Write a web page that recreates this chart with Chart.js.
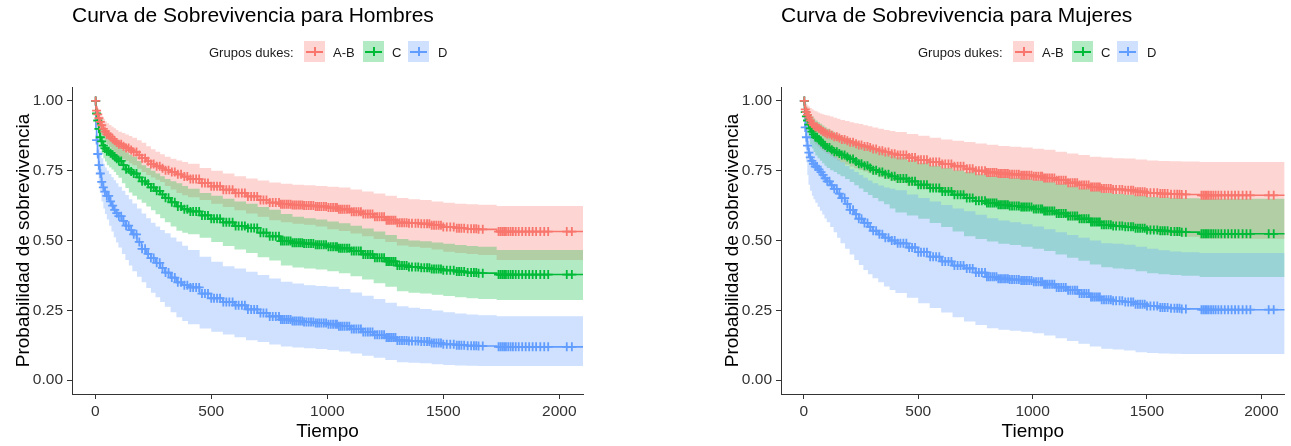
<!DOCTYPE html>
<html>
<head>
<meta charset="utf-8">
<script src="https://cdn.jsdelivr.net/npm/chart.js@4.4.1/dist/chart.umd.min.js"></script>
<style>
html,body{margin:0;padding:0;background:#fff;}
body{width:1291px;height:446px;position:relative;overflow:hidden;font-family:"Liberation Sans",Arial,sans-serif;}
.panel{position:absolute;top:0;height:446px;}
.panel canvas{position:absolute;top:0;left:0;}
.titulo{position:absolute;left:72px;top:4px;font-size:21px;line-height:21px;color:#000;white-space:nowrap;}
.ley{position:absolute;top:46px;font-size:13px;line-height:13px;color:#1a1a1a;white-space:nowrap;}
.caja{position:absolute;top:41px;width:21px;height:21px;}
.caja .h{position:absolute;left:2px;right:2px;top:9.5px;height:2px;}
.caja .v{position:absolute;top:6px;bottom:6px;left:9.5px;width:2px;}
</style>
</head>
<body>
<div class="panel" id="p1" style="left:0;width:600px;">
  <canvas id="c1" width="600" height="446"></canvas>
  <div class="titulo">Curva de Sobrevivencia para Hombres</div>
  <div class="ley" style="left:209px;">Grupos dukes:</div>
  <div class="caja" style="left:304px;background:rgba(248,118,109,0.3)"><div class="h" style="background:#F8766D"></div><div class="v" style="background:#F8766D"></div></div>
  <div class="ley" style="left:333px;">A-B</div>
  <div class="caja" style="left:363px;background:rgba(0,186,56,0.3)"><div class="h" style="background:#00BA38"></div><div class="v" style="background:#00BA38"></div></div>
  <div class="ley" style="left:392px;">C</div>
  <div class="caja" style="left:408px;background:rgba(97,156,255,0.3)"><div class="h" style="background:#619CFF"></div><div class="v" style="background:#619CFF"></div></div>
  <div class="ley" style="left:438px;">D</div>
</div>
<div class="panel" id="p2" style="left:709px;width:582px;">
  <canvas id="c2" width="582" height="446"></canvas>
  <div class="titulo">Curva de Sobrevivencia para Mujeres</div>
  <div class="ley" style="left:209px;">Grupos dukes:</div>
  <div class="caja" style="left:304px;background:rgba(248,118,109,0.3)"><div class="h" style="background:#F8766D"></div><div class="v" style="background:#F8766D"></div></div>
  <div class="ley" style="left:333px;">A-B</div>
  <div class="caja" style="left:363px;background:rgba(0,186,56,0.3)"><div class="h" style="background:#00BA38"></div><div class="v" style="background:#00BA38"></div></div>
  <div class="ley" style="left:392px;">C</div>
  <div class="caja" style="left:408px;background:rgba(97,156,255,0.3)"><div class="h" style="background:#619CFF"></div><div class="v" style="background:#619CFF"></div></div>
  <div class="ley" style="left:438px;">D</div>
</div>
<script>
// ---------------- DATA ----------------
const tiempos = [0, 3, 6, 10, 15, 20, 27, 35, 42, 50,
  60, 70, 80, 90, 100, 115, 130, 145, 160, 180,
  200, 220, 240, 260, 280, 300, 325, 350, 375, 400,
  450, 500, 550, 600, 650, 700, 750, 800, 850, 900,
  950, 1000, 1050, 1100, 1150, 1200, 1250, 1300, 1350, 1400,
  1450, 1500, 1550, 1600, 1650, 1730, 2102];

const ticksX = [0, 500, 1000, 1500, 2000];
const ticksY = [0, 0.25, 0.5, 0.75, 1];

const tiemposCensura = [2, 6, 11, 16, 22, 28, 35, 42, 50, 58, 66, 75, 84, 93, 102, 112, 122, 133, 144, 155,
  166, 178, 190, 202, 215, 228, 240, 252, 265, 278, 290, 303, 316, 330, 343, 356, 370, 384, 397,
  410, 422, 435, 448, 460, 473, 486, 500, 512, 525, 538, 552, 565, 578, 592, 605, 618, 632, 645, 658,
  672, 685, 698, 712, 725, 738, 752, 765, 778, 792,
  800, 808, 816, 825, 833, 842, 850, 858, 866, 875, 883, 892, 900, 910, 920, 930, 940, 950, 958, 966,
  975, 985, 995, 1005, 1015, 1025, 1035, 1042, 1050, 1058, 1066, 1075, 1085, 1095, 1105, 1115, 1125,
  1135, 1145, 1155, 1165, 1175, 1185, 1195, 1205, 1215, 1225, 1235, 1245, 1255, 1262, 1270, 1278, 1286,
  1294, 1302, 1312, 1322, 1332, 1342, 1352, 1365, 1380, 1392, 1405, 1418, 1430, 1440, 1450, 1460, 1470,
  1480, 1490, 1500, 1515, 1530, 1545, 1558, 1568, 1578, 1590, 1605, 1620, 1632, 1642, 1652, 1670,
  1738, 1746, 1754, 1762, 1770, 1780, 1790, 1800, 1812, 1825, 1840, 1855, 1870, 1885, 1900, 1918, 1935,
  1952, 2032, 2054];

// Hombres
const hombresAB = [1.00, 0.975, 0.965, 0.952, 0.938, 0.925, 0.913, 0.90, 0.89, 0.88,
  0.872, 0.864, 0.857, 0.851, 0.845, 0.838, 0.831, 0.824, 0.817, 0.806,
  0.795, 0.784, 0.774, 0.766, 0.759, 0.752, 0.745, 0.737, 0.729, 0.72,
  0.706, 0.694, 0.682, 0.67, 0.658, 0.645, 0.636, 0.63, 0.627, 0.625,
  0.622, 0.618, 0.612, 0.603, 0.595, 0.585, 0.573, 0.564, 0.562, 0.56,
  0.555, 0.548, 0.544, 0.542, 0.54, 0.532, 0.532];
const hombresABSup = [1.00, 0.993, 0.985, 0.975, 0.965, 0.955, 0.945, 0.935, 0.927, 0.92,
  0.914, 0.908, 0.902, 0.896, 0.89, 0.885, 0.88, 0.874, 0.868, 0.859,
  0.85, 0.838, 0.827, 0.818, 0.809, 0.80, 0.793, 0.787, 0.781, 0.775,
  0.76, 0.75, 0.74, 0.73, 0.722, 0.715, 0.708, 0.703, 0.70, 0.698,
  0.695, 0.693, 0.69, 0.683, 0.676, 0.668, 0.66, 0.652, 0.648, 0.645,
  0.64, 0.635, 0.632, 0.63, 0.628, 0.624, 0.624];
const hombresABInf = [1.00, 0.96, 0.945, 0.925, 0.91, 0.895, 0.882, 0.87, 0.857, 0.845,
  0.835, 0.826, 0.817, 0.808, 0.80, 0.792, 0.785, 0.777, 0.77, 0.757,
  0.745, 0.735, 0.726, 0.718, 0.71, 0.695, 0.683, 0.67, 0.662, 0.655,
  0.645, 0.632, 0.62, 0.608, 0.597, 0.585, 0.573, 0.565, 0.56, 0.556,
  0.55, 0.54, 0.534, 0.525, 0.515, 0.505, 0.495, 0.482, 0.478, 0.474,
  0.468, 0.46, 0.455, 0.452, 0.448, 0.43, 0.43];

const hombresC = [1.00, 0.97, 0.955, 0.93, 0.90, 0.87, 0.855, 0.84, 0.83, 0.82,
  0.813, 0.807, 0.801, 0.793, 0.785, 0.77, 0.755, 0.747, 0.74, 0.726,
  0.712, 0.703, 0.69, 0.678, 0.665, 0.653, 0.637, 0.622, 0.612, 0.604,
  0.59, 0.578, 0.565, 0.552, 0.545, 0.528, 0.515, 0.498, 0.492, 0.489,
  0.485, 0.478, 0.472, 0.462, 0.45, 0.438, 0.425, 0.41, 0.405, 0.402,
  0.398, 0.393, 0.389, 0.385, 0.383, 0.378, 0.378];
const hombresCSup = [1.00, 0.985, 0.975, 0.96, 0.937, 0.915, 0.902, 0.89, 0.88, 0.87,
  0.864, 0.858, 0.851, 0.843, 0.835, 0.825, 0.815, 0.807, 0.80, 0.785,
  0.77, 0.76, 0.75, 0.74, 0.73, 0.72, 0.712, 0.705, 0.695, 0.685,
  0.67, 0.66, 0.65, 0.64, 0.632, 0.62, 0.61, 0.595, 0.585, 0.58,
  0.575, 0.568, 0.562, 0.553, 0.543, 0.532, 0.52, 0.505, 0.50, 0.497,
  0.493, 0.488, 0.484, 0.48, 0.478, 0.466, 0.466];
const hombresCInf = [1.00, 0.955, 0.935, 0.90, 0.865, 0.83, 0.81, 0.795, 0.783, 0.77,
  0.762, 0.754, 0.745, 0.735, 0.725, 0.705, 0.688, 0.672, 0.66, 0.647,
  0.635, 0.622, 0.608, 0.594, 0.58, 0.565, 0.55, 0.535, 0.528, 0.522,
  0.51, 0.495, 0.48, 0.468, 0.455, 0.44, 0.428, 0.41, 0.403, 0.40,
  0.396, 0.39, 0.383, 0.372, 0.36, 0.347, 0.334, 0.318, 0.313, 0.31,
  0.306, 0.301, 0.297, 0.293, 0.29, 0.287, 0.287];

const hombresD = [1.00, 0.90, 0.86, 0.81, 0.77, 0.74, 0.71, 0.69, 0.675, 0.66,
  0.64, 0.625, 0.61, 0.598, 0.587, 0.57, 0.553, 0.537, 0.522, 0.495,
  0.47, 0.452, 0.437, 0.42, 0.402, 0.385, 0.367, 0.35, 0.34, 0.332,
  0.31, 0.293, 0.28, 0.268, 0.253, 0.24, 0.228, 0.217, 0.212, 0.208,
  0.204, 0.20, 0.193, 0.183, 0.172, 0.162, 0.152, 0.142, 0.14, 0.138,
  0.133, 0.128, 0.125, 0.123, 0.122, 0.119, 0.119];
const hombresDSup = [1.00, 0.95, 0.92, 0.88, 0.845, 0.82, 0.795, 0.775, 0.762, 0.75,
  0.738, 0.727, 0.716, 0.705, 0.693, 0.678, 0.663, 0.648, 0.633, 0.615,
  0.597, 0.58, 0.564, 0.55, 0.538, 0.526, 0.511, 0.496, 0.481, 0.466,
  0.442, 0.424, 0.408, 0.40, 0.388, 0.376, 0.364, 0.352, 0.346, 0.34,
  0.337, 0.334, 0.326, 0.314, 0.302, 0.29, 0.277, 0.264, 0.259, 0.255,
  0.249, 0.243, 0.238, 0.235, 0.232, 0.229, 0.229];
const hombresDInf = [1.00, 0.85, 0.80, 0.74, 0.70, 0.67, 0.64, 0.615, 0.595, 0.575,
  0.553, 0.532, 0.512, 0.493, 0.475, 0.452, 0.43, 0.41, 0.39, 0.37,
  0.35, 0.33, 0.313, 0.297, 0.28, 0.263, 0.243, 0.225, 0.212, 0.20,
  0.185, 0.173, 0.163, 0.153, 0.143, 0.136, 0.127, 0.12, 0.117, 0.114,
  0.111, 0.108, 0.102, 0.095, 0.087, 0.08, 0.072, 0.064, 0.062, 0.06,
  0.057, 0.054, 0.052, 0.051, 0.05, 0.05, 0.05];

// Mujeres
const mujeresAB = [1.00, 0.98, 0.97, 0.96, 0.95, 0.94, 0.93, 0.92, 0.913, 0.907,
  0.901, 0.896, 0.891, 0.886, 0.882, 0.877, 0.872, 0.867, 0.862, 0.857,
  0.852, 0.847, 0.842, 0.837, 0.833, 0.828, 0.822, 0.817, 0.811, 0.806,
  0.797, 0.789, 0.781, 0.774, 0.766, 0.757, 0.75, 0.744, 0.74, 0.737,
  0.734, 0.73, 0.724, 0.716, 0.707, 0.699, 0.692, 0.686, 0.683, 0.68,
  0.675, 0.671, 0.668, 0.666, 0.665, 0.662, 0.662];
const mujeresABSup = [1.00, 0.997, 0.993, 0.99, 0.985, 0.98, 0.975, 0.97, 0.966, 0.963,
  0.959, 0.955, 0.952, 0.95, 0.948, 0.944, 0.94, 0.936, 0.932, 0.928,
  0.924, 0.92, 0.917, 0.913, 0.909, 0.905, 0.90, 0.896, 0.892, 0.889,
  0.882, 0.875, 0.868, 0.862, 0.857, 0.853, 0.848, 0.843, 0.839, 0.836,
  0.833, 0.829, 0.825, 0.818, 0.812, 0.806, 0.80, 0.797, 0.795, 0.794,
  0.79, 0.787, 0.785, 0.784, 0.783, 0.781, 0.781];
const mujeresABInf = [1.00, 0.96, 0.945, 0.925, 0.91, 0.895, 0.88, 0.865, 0.855, 0.845,
  0.837, 0.829, 0.822, 0.816, 0.81, 0.802, 0.795, 0.787, 0.78, 0.772,
  0.765, 0.759, 0.753, 0.747, 0.741, 0.735, 0.727, 0.72, 0.713, 0.706,
  0.695, 0.685, 0.678, 0.672, 0.665, 0.655, 0.645, 0.635, 0.628, 0.62,
  0.612, 0.60, 0.592, 0.582, 0.572, 0.563, 0.556, 0.55, 0.546, 0.543,
  0.535, 0.527, 0.52, 0.516, 0.513, 0.506, 0.506];

const mujeresC = [1.00, 0.975, 0.96, 0.945, 0.93, 0.915, 0.902, 0.89, 0.88, 0.87,
  0.862, 0.854, 0.846, 0.84, 0.833, 0.825, 0.818, 0.812, 0.806, 0.799,
  0.792, 0.783, 0.775, 0.768, 0.76, 0.752, 0.745, 0.737, 0.73, 0.722,
  0.712, 0.70, 0.688, 0.676, 0.664, 0.652, 0.642, 0.634, 0.628, 0.624,
  0.62, 0.613, 0.606, 0.597, 0.588, 0.578, 0.566, 0.556, 0.552, 0.549,
  0.544, 0.538, 0.535, 0.532, 0.53, 0.524, 0.524];
const mujeresCSup = [1.00, 0.993, 0.987, 0.98, 0.97, 0.96, 0.952, 0.945, 0.937, 0.93,
  0.924, 0.918, 0.912, 0.906, 0.90, 0.893, 0.885, 0.878, 0.872, 0.866,
  0.86, 0.853, 0.846, 0.839, 0.832, 0.826, 0.819, 0.812, 0.805, 0.798,
  0.788, 0.778, 0.768, 0.76, 0.752, 0.745, 0.737, 0.731, 0.727, 0.724,
  0.721, 0.716, 0.71, 0.702, 0.694, 0.686, 0.677, 0.67, 0.667, 0.664,
  0.66, 0.656, 0.654, 0.652, 0.651, 0.65, 0.65];
const mujeresCInf = [1.00, 0.955, 0.935, 0.91, 0.885, 0.865, 0.845, 0.83, 0.817, 0.805,
  0.795, 0.786, 0.777, 0.768, 0.76, 0.752, 0.745, 0.737, 0.73, 0.72,
  0.71, 0.698, 0.686, 0.674, 0.663, 0.652, 0.641, 0.63, 0.615, 0.60,
  0.59, 0.578, 0.563, 0.548, 0.532, 0.515, 0.505, 0.496, 0.488, 0.484,
  0.478, 0.47, 0.462, 0.45, 0.438, 0.427, 0.414, 0.404, 0.40, 0.397,
  0.39, 0.383, 0.379, 0.376, 0.374, 0.369, 0.369];

const mujeresD = [1.00, 0.94, 0.905, 0.87, 0.84, 0.815, 0.798, 0.785, 0.775, 0.765,
  0.755, 0.745, 0.735, 0.723, 0.712, 0.698, 0.685, 0.668, 0.652, 0.631,
  0.61, 0.594, 0.578, 0.563, 0.549, 0.535, 0.522, 0.51, 0.50, 0.49,
  0.475, 0.458, 0.442, 0.425, 0.41, 0.40, 0.385, 0.37, 0.363, 0.36,
  0.357, 0.352, 0.343, 0.332, 0.322, 0.31, 0.298, 0.288, 0.284, 0.28,
  0.272, 0.265, 0.26, 0.257, 0.255, 0.252, 0.252];
const mujeresDSup = [1.00, 0.98, 0.96, 0.945, 0.925, 0.91, 0.895, 0.88, 0.87, 0.86,
  0.852, 0.844, 0.836, 0.828, 0.82, 0.81, 0.80, 0.79, 0.78, 0.767,
  0.755, 0.745, 0.735, 0.725, 0.715, 0.705, 0.697, 0.69, 0.685, 0.68,
  0.665, 0.652, 0.64, 0.627, 0.615, 0.605, 0.592, 0.58, 0.572, 0.565,
  0.558, 0.55, 0.54, 0.53, 0.52, 0.51, 0.50, 0.49, 0.488, 0.485,
  0.478, 0.47, 0.465, 0.461, 0.458, 0.455, 0.455];
const mujeresDInf = [1.00, 0.89, 0.83, 0.78, 0.735, 0.70, 0.678, 0.66, 0.648, 0.635,
  0.621, 0.607, 0.593, 0.579, 0.565, 0.548, 0.53, 0.51, 0.49, 0.47,
  0.45, 0.43, 0.412, 0.394, 0.379, 0.365, 0.35, 0.335, 0.323, 0.312,
  0.295, 0.275, 0.258, 0.242, 0.225, 0.21, 0.197, 0.186, 0.18, 0.177,
  0.173, 0.168, 0.16, 0.15, 0.14, 0.13, 0.12, 0.112, 0.109, 0.106,
  0.10, 0.097, 0.095, 0.094, 0.093, 0.093, 0.093];

// ---------------- STYLE ----------------
const FAM = '"Liberation Sans", Arial, sans-serif';
const colorLinea = {AB: '#F8766D', C: '#00BA38', D: '#619CFF'};
const colorBanda = {AB: 'rgba(248,118,109,0.3)', C: 'rgba(0,186,56,0.3)', D: 'rgba(97,156,255,0.3)'};
const ordenBanda = {AB: 30, C: 20, D: 10};

function puntos(vals) { return tiempos.map((t, i) => ({x: t, y: vals[i]})); }
// value of the Kaplan-Meier step function at time t (lookup, no interpolation)
function valorEn(vals, t) {
  let v = vals[0];
  for (let i = 0; i < tiempos.length; i++) { if (tiempos[i] <= t) v = vals[i]; else break; }
  return v;
}
function censuras(vals) { return tiemposCensura.map(t => ({x: t, y: valorEn(vals, t)})); }

function construirDatasets(grupos) {
  const ds = [];
  grupos.forEach(g => {
    ds.push({data: puntos(g.sup), stepped: true, borderWidth: 0, borderColor: 'transparent',
      backgroundColor: colorBanda[g.k], fill: '+1', pointRadius: 0, order: ordenBanda[g.k]});
    ds.push({data: puntos(g.inf), stepped: true, borderWidth: 0, borderColor: 'transparent',
      fill: false, pointRadius: 0, order: ordenBanda[g.k]});
  });
  grupos.forEach(g => {
    ds.push({data: puntos(g.s), stepped: true, borderWidth: 1.6, borderColor: colorLinea[g.k],
      fill: false, pointRadius: 0, order: 2});
    ds.push({data: censuras(g.s), showLine: false, pointStyle: 'cross', pointRadius: 4.5,
      pointBorderWidth: 1.8, pointBorderColor: colorLinea[g.k], pointBackgroundColor: colorLinea[g.k],
      fill: false, order: 1});
  });
  return ds;
}

function crearGrafico(id, grupos, padDer) {
  new Chart(document.getElementById(id), {
    type: 'line',
    data: {datasets: construirDatasets(grupos)},
    options: {
      responsive: false, animation: false, devicePixelRatio: 1, events: [],
      layout: {padding: {left: 0, right: padDer, top: 87, bottom: 0}},
      plugins: {legend: {display: false}, tooltip: {enabled: false}, title: {display: false}},
      scales: {
        x: {
          type: 'linear', min: -100, max: 2102,
          afterBuildTicks: s => { s.ticks = ticksX.map(v => ({value: v})); },
          afterFit: s => { s.height = 52; },
          grid: {display: true, drawOnChartArea: false, drawTicks: true, tickLength: 5, color: '#333', lineWidth: 1},
          border: {display: true, color: '#333', width: 1},
          ticks: {color: '#333', font: {family: FAM, size: 15.5}, padding: 3, maxRotation: 0, autoSkip: false,
            callback: v => String(v)},
          title: {display: true, text: 'Tiempo', color: '#000', font: {family: FAM, size: 19}, padding: {top: 0, bottom: 2.6}}
        },
        y: {
          min: -0.05, max: 1.05,
          afterBuildTicks: s => { s.ticks = ticksY.map(v => ({value: v})); },
          afterFit: s => { s.width = 72; },
          grid: {display: true, drawOnChartArea: false, drawTicks: true, tickLength: 5, color: '#333', lineWidth: 1},
          border: {display: true, color: '#333', width: 1},
          ticks: {color: '#333', font: {family: FAM, size: 15.5}, padding: 4, callback: v => Number(v).toFixed(2)},
          title: {display: true, text: 'Probabilidad de sobrevivencia', color: '#000', font: {family: FAM, size: 19}, padding: {top: 12, bottom: 0}}
        }
      }
    }
  });
}

crearGrafico('c1', [
  {k: 'AB', s: hombresAB, sup: hombresABSup, inf: hombresABInf},
  {k: 'C', s: hombresC, sup: hombresCSup, inf: hombresCInf},
  {k: 'D', s: hombresD, sup: hombresDSup, inf: hombresDInf}
], 17);
crearGrafico('c2', [
  {k: 'AB', s: mujeresAB, sup: mujeresABSup, inf: mujeresABInf},
  {k: 'C', s: mujeresC, sup: mujeresCSup, inf: mujeresCInf},
  {k: 'D', s: mujeresD, sup: mujeresDSup, inf: mujeresDInf}
], 0);
</script>
</body>
</html>
